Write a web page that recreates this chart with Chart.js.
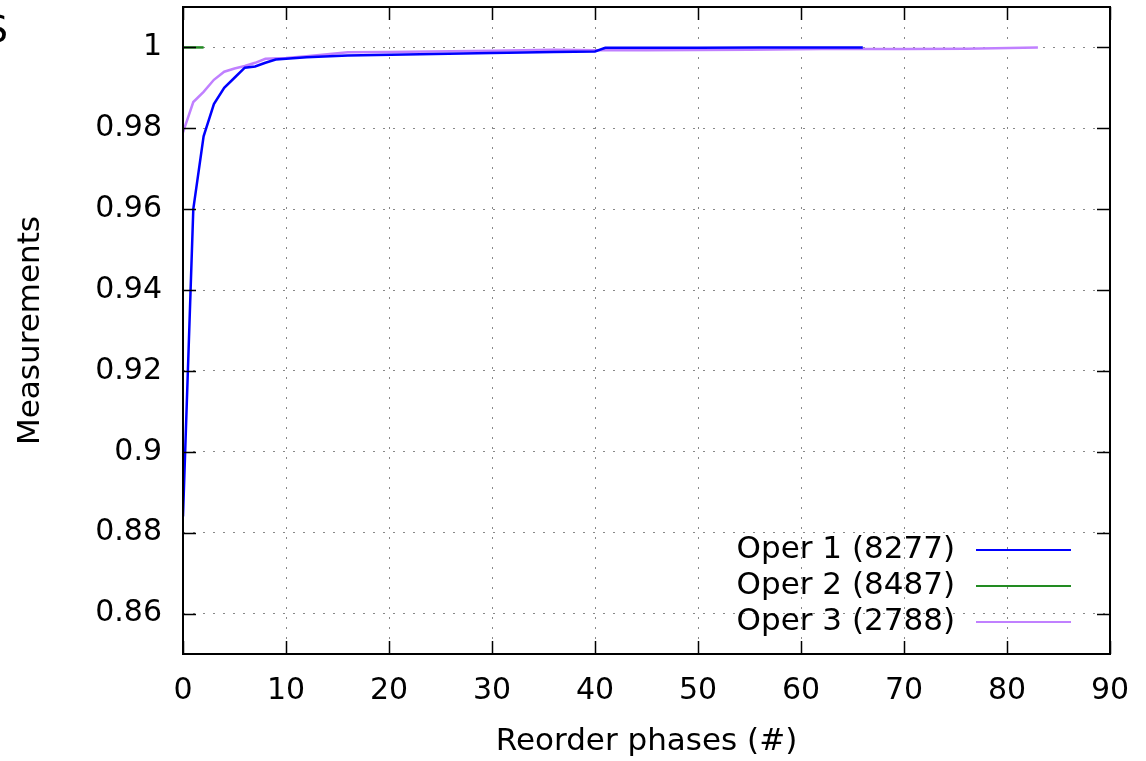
<!DOCTYPE html>
<html>
<head>
<meta charset="utf-8">
<script src="https://cdn.jsdelivr.net/npm/chart.js@4"></script>
<style>
  body { margin: 0; background: #fff; }
  canvas { display: block; }
</style>
</head>
<body>
<canvas id="grafico" width="1146" height="761"></canvas>
<script>
// valores
const oper1X = [0, 1, 2, 3, 4, 5, 6, 7, 8, 9, 10, 12, 16, 23, 30, 36, 40, 41, 50, 56, 66];
const oper1Y = [0.884, 0.960, 0.978, 0.986, 0.990, 0.9925, 0.995, 0.9953, 0.9962, 0.997, 0.9972, 0.9976, 0.998, 0.9983, 0.9986, 0.9989, 0.999, 0.9999, 0.9999, 1.0, 1.0];

const oper2X = [0, 1, 2];
const oper2Y = [1.0, 1.0, 1.0];

const oper3X = [0, 1, 2, 3, 4, 5, 6, 7, 8, 10, 12, 16, 20, 30, 36, 40, 45, 55, 62, 70, 76, 83];
const oper3Y = [0.979, 0.9865, 0.989, 0.992, 0.994, 0.9948, 0.9954, 0.9962, 0.9972, 0.9974, 0.9978, 0.9988, 0.9989, 0.9992, 0.9994, 0.9993, 0.9993, 0.9994, 0.9996, 0.9996, 0.9997, 1.0];

const legendas = ['Oper 1 (8277)', 'Oper 2 (8487)', 'Oper 3 (2788)'];
const cores = ['#0000ff', '#228b22', '#c080ff'];
const yTicks = [0.86, 0.88, 0.9, 0.92, 0.94, 0.96, 0.98, 1];

const fonte = 'DejaVu Sans';

function pontos(xs, ys) {
  return xs.map((x, i) => ({ x: x, y: ys[i] }));
}

// moldura estilo gnuplot: borda + marcas para dentro nos quatro lados
const moldura = {
  id: 'moldura',
  afterDatasetsDraw(chart) {
    const { ctx, chartArea: a, scales } = chart;
    const t = 13;
    ctx.save();
    ctx.strokeStyle = '#000';
    ctx.lineWidth = 1.5;
    ctx.beginPath();
    scales.x.ticks.forEach((tk) => {
      const px = Math.round(scales.x.getPixelForValue(tk.value)) + 0.5;
      ctx.moveTo(px, a.bottom); ctx.lineTo(px, a.bottom - t);
      ctx.moveTo(px, a.top); ctx.lineTo(px, a.top + t);
    });
    scales.y.ticks.forEach((tk) => {
      const py = Math.round(scales.y.getPixelForValue(tk.value)) + 0.5;
      ctx.moveTo(a.left, py); ctx.lineTo(a.left + t, py);
      ctx.moveTo(a.right, py); ctx.lineTo(a.right - t, py);
    });
    ctx.stroke();
    ctx.lineWidth = 2;
    ctx.strokeRect(a.left, a.top, a.right - a.left, a.bottom - a.top);
    ctx.restore();
  }
};

// legenda dentro da área, texto à esquerda e amostra da linha à direita
const legenda = {
  id: 'legenda',
  afterDraw(chart) {
    const { ctx } = chart;
    const linhas = [550, 586, 622];
    ctx.save();
    ctx.font = '31px "' + fonte + '"';
    ctx.fillStyle = '#000';
    ctx.textAlign = 'right';
    ctx.textBaseline = 'middle';
    chart.data.datasets.forEach((ds, i) => {
      ctx.fillText(ds.label, 955, linhas[i]);
      ctx.strokeStyle = ds.borderColor;
      ctx.lineWidth = 2;
      ctx.beginPath();
      ctx.moveTo(976, linhas[i]);
      ctx.lineTo(1071, linhas[i]);
      ctx.stroke();
    });
    // letra cortada no canto superior esquerdo
    ctx.font = '37px "' + fonte + '"';
    ctx.textBaseline = 'alphabetic';
    ctx.fillText('S', 8, 42);
    ctx.restore();
  }
};

const ctx = document.getElementById('grafico').getContext('2d');

const chart = new Chart(ctx, {
  type: 'line',
  data: {
    datasets: [
      { label: legendas[0], data: pontos(oper1X, oper1Y), borderColor: cores[0] },
      { label: legendas[1], data: pontos(oper2X, oper2Y), borderColor: cores[1] },
      { label: legendas[2], data: pontos(oper3X, oper3Y), borderColor: cores[2] }
    ]
  },
  options: {
    responsive: false,
    animation: false,
    devicePixelRatio: 1,
    elements: {
      point: { radius: 0 },
      line: { borderWidth: 2.5, tension: 0, fill: false }
    },
    layout: { padding: { left: 0, right: 36, top: 7, bottom: 0 } },
    plugins: {
      legend: { display: false },
      tooltip: { enabled: false }
    },
    scales: {
      x: {
        type: 'linear',
        min: 0,
        max: 90,
        ticks: { stepSize: 10, color: '#000', padding: 19, font: { family: fonte, size: 30 } },
        grid: { color: '#888', drawTicks: false },
        border: { display: false, dash: [2, 8] },
        title: { display: true, text: 'Reorder phases (#)', color: '#000', padding: { top: 0, bottom: 0 }, font: { family: fonte, size: 31 } },
        afterFit(scale) {
          scale.height = 107;
          scale.paddingLeft = 0;
          scale.paddingRight = 0;
        }
      },
      y: {
        min: 0.85,
        max: 1.01,
        afterBuildTicks(scale) { scale.ticks = yTicks.map((v) => ({ value: v })); },
        ticks: {
          color: '#000',
          padding: 21,
          font: { family: fonte, size: 30 },
          callback: (v) => String(Number(v.toFixed(2)))
        },
        grid: { color: '#888', drawTicks: false },
        border: { display: false, dash: [2, 8] },
        title: { display: true, text: 'Measurements', color: '#000', padding: { top: 12, bottom: 0 }, font: { family: fonte, size: 31 } },
        afterFit(scale) {
          scale.width = 183;
          scale.paddingTop = 0;
          scale.paddingBottom = 0;
        }
      }
    }
  },
  plugins: [moldura, legenda]
});
</script>
</body>
</html>
